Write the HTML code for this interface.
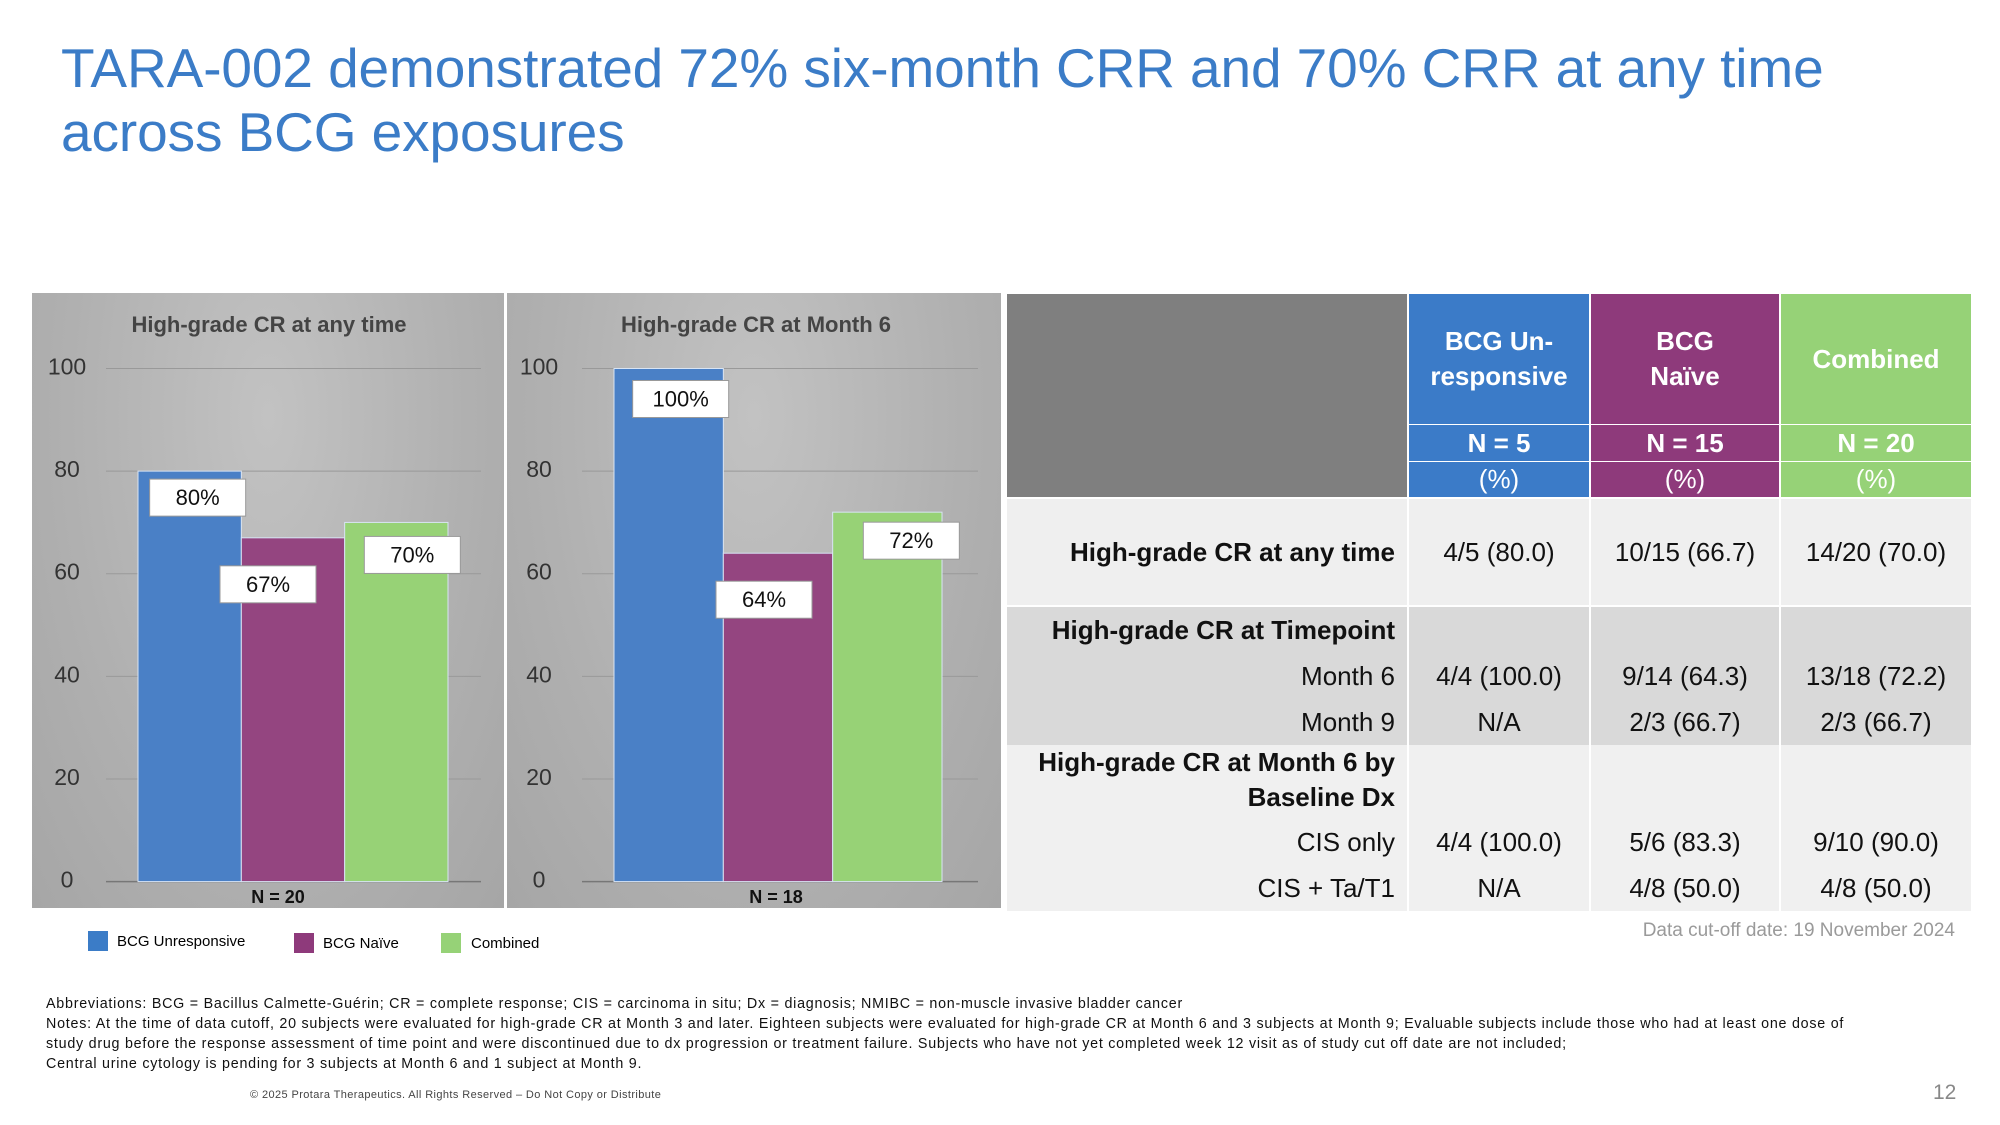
<!DOCTYPE html>
<html><head><meta charset="utf-8">
<style>
*{margin:0;padding:0;box-sizing:border-box}
body{width:2000px;height:1125px;background:#fff;font-family:"Liberation Sans",sans-serif;position:relative;overflow:hidden}
.abs{position:absolute}
#title{left:61px;top:36px;font-size:55px;color:#3b7cc7;line-height:64px;letter-spacing:-0.1px}
.panel{position:absolute;top:293px;height:615px;background:radial-gradient(ellipse at 50% 20%,#c2c2c2 0%,#b0b0b0 60%,#a6a6a6 100%)}
.cell{position:absolute;display:flex;align-items:center;justify-content:center;text-align:center;font-size:26px;color:#111}
.hdr{color:#fff;font-weight:bold;font-size:26px;line-height:35px}
.lbl{justify-content:flex-end;padding-right:12px;text-align:right}
.note{position:absolute;left:46px;font-size:14.3px;color:#111;letter-spacing:0.75px;white-space:nowrap}
</style></head><body>
<div id="title" class="abs">TARA-002 demonstrated 72% six-month CRR and 70% CRR at any time<br>across BCG exposures</div>

<div class="panel" style="left:32px;width:472px"></div>
<div class="panel" style="left:507px;width:494px"></div>
<svg id="charts" class="abs" style="left:0;top:0" width="1010" height="980"></svg>

<div class="abs" style="left:88px;top:931px;width:20px;height:20px;background:#3b7cc7"></div>
<div class="abs" style="left:117px;top:933px;font-size:15px">BCG Unresponsive</div>
<div class="abs" style="left:294px;top:933px;width:20px;height:20px;background:#8e3a7b"></div>
<div class="abs" style="left:323px;top:935px;font-size:15px">BCG Naïve</div>
<div class="abs" style="left:441px;top:933px;width:20px;height:20px;background:#96d277"></div>
<div class="abs" style="left:471px;top:935px;font-size:15px">Combined</div>

<div id="table">
<div class="cell" style="left:1007px;top:294px;width:400px;height:203px;background:#7f7f7f"></div>
<div class="cell hdr" style="left:1409px;top:294px;width:180px;height:130px;background:#3b7bc8">BCG Un-<br>responsive</div>
<div class="cell hdr" style="left:1591px;top:294px;width:188px;height:130px;background:#8e3a7b">BCG<br>Naïve</div>
<div class="cell hdr" style="left:1781px;top:294px;width:190px;height:130px;background:#96d277">Combined</div>
<div class="cell hdr" style="left:1409px;top:425px;width:180px;height:36px;background:#3b7bc8">N = 5</div>
<div class="cell hdr" style="left:1591px;top:425px;width:188px;height:36px;background:#8e3a7b">N = 15</div>
<div class="cell hdr" style="left:1781px;top:425px;width:190px;height:36px;background:#96d277">N = 20</div>
<div class="cell hdr" style="left:1409px;top:462px;width:180px;height:35px;background:#3b7bc8;font-weight:normal">(%)</div>
<div class="cell hdr" style="left:1591px;top:462px;width:188px;height:35px;background:#8e3a7b;font-weight:normal">(%)</div>
<div class="cell hdr" style="left:1781px;top:462px;width:190px;height:35px;background:#96d277;font-weight:normal">(%)</div>
</div>
<div class="abs" style="left:1500px;top:920px;width:455px;text-align:right;font-size:19px;color:#9a9a9a">Data cut-off date: 19 November 2024</div>

<div class="note" style="top:996px">Abbreviations: BCG = Bacillus Calmette-Guérin; CR = complete response; CIS = carcinoma in situ; Dx = diagnosis; NMIBC = non-muscle invasive bladder cancer</div>
<div class="note" style="top:1016px">Notes: At the time of data cutoff, 20 subjects were evaluated for high-grade CR at Month 3 and later. Eighteen subjects were evaluated for high-grade CR at Month 6 and 3 subjects at Month 9; Evaluable subjects include those who had at least one dose of</div>
<div class="note" style="top:1036px">study drug before the response assessment of time point and were discontinued due to dx progression or treatment failure. Subjects who have not yet completed week 12 visit as of study cut off date are not included;</div>
<div class="note" style="top:1056px">Central urine cytology is pending for 3 subjects at Month 6 and 1 subject at Month 9.</div>
<div class="abs" style="left:250px;top:1089px;font-size:11px;color:#444;letter-spacing:0.4px">© 2025 Protara Therapeutics. All Rights Reserved – Do Not Copy or Distribute</div>
<div class="abs" style="left:1933px;top:1081px;font-size:21px;color:#888">12</div>

<script>
const series = ["BCG Unresponsive","BCG Naïve","Combined"];
const anyTimeValues = [80,67,70];
const month6Values = [100,64,72];
const anyTimeLabels = ["80%","67%","70%"];
const month6Labels = ["100%","64%","72%"];
const yTicks = [0,20,40,60,80,100];
const colors = ["#4a80c6","#944580","#97d276"];
const NS="http://www.w3.org/2000/svg";
const svg=document.getElementById('charts');
function mk(tag,attrs){const e=document.createElementNS(NS,tag);for(const k in attrs)e.setAttribute(k,attrs[k]);svg.appendChild(e);return e;}
const y0=881.6,y100=368.5;
function yScale(v){return y0-(v/100)*(y0-y100);}
function drawChart(cfg,values,labels,key){
  yTicks.forEach(t=>{
    const l=mk('line',{x1:cfg.gx1,x2:cfg.gx2,y1:yScale(t),y2:yScale(t),stroke:t===0?'#777':'#999','stroke-width':t===0?1.5:1});
    
    
    const tx=mk('text',{x:cfg.tickX,y:yScale(t)+6,'text-anchor':'middle','font-size':23,fill:'#333'});
    tx.textContent=t;
    
    
  });
  const bw=(cfg.bx2-cfg.bx1)/values.length;
  values.forEach((v,i)=>{
    const x=cfg.bx1+i*bw;
    const r=mk('rect',{x:x,y:yScale(v),width:bw,height:y0-yScale(v),fill:colors[i],stroke:'#d8e4f4','stroke-width':1});
    
    
  });
  values.forEach((v,i)=>{
    const cx=cfg.bx1+(i+0.5)*bw+cfg.labelDx[i];
    const top=yScale(v)+cfg.labelDy[i];
    const b=mk('rect',{x:cx-48,y:top,width:96,height:37,fill:'#fff',stroke:'#999','stroke-width':1});
    
    
    const t=mk('text',{x:cx,y:top+26,'text-anchor':'middle','font-size':22,fill:'#111'});
    t.textContent=labels[i];
    
    
  });
  const tt=mk('text',{x:cfg.titleX,y:332,'text-anchor':'middle','font-size':22,'font-weight':'bold',fill:'#444'});
  tt.textContent=cfg.title;
  
  
  const n=mk('text',{x:cfg.nX,y:903,'text-anchor':'middle','font-size':18,'font-weight':'bold',fill:'#111'});
  n.textContent=cfg.n;
  
  
}
drawChart({gx1:106,gx2:481,bx1:138,bx2:448,tickX:67,titleX:269,nX:278,title:"High-grade CR at any time",n:"N = 20",labelDx:[8,-25,16],labelDy:[8,28,14]},anyTimeValues,anyTimeLabels,'any-time');
drawChart({gx1:582,gx2:978,bx1:614,bx2:942,tickX:539,titleX:756,nX:776,title:"High-grade CR at Month 6",n:"N = 18",labelDx:[12,-14,24],labelDy:[12,28,10]},month6Values,month6Labels,'month6');

const rowLabels=["High-grade CR at any time","High-grade CR at Timepoint","Month 6","Month 9","High-grade CR at Month 6 by<br>Baseline Dx","CIS only","CIS + Ta/T1"];
const rowBold=[true,true,false,false,true,false,false];
const colUnresponsive=["4/5 (80.0)","","4/4 (100.0)","N/A","","4/4 (100.0)","N/A"];
const colNaive=["10/15 (66.7)","","9/14 (64.3)","2/3 (66.7)","","5/6 (83.3)","4/8 (50.0)"];
const colCombined=["14/20 (70.0)","","13/18 (72.2)","2/3 (66.7)","","9/10 (90.0)","4/8 (50.0)"];
const rowTops=[499,607,653,699,745,819,865,911];
const rowBg=["#efefef","#d9d9d9","#d9d9d9","#d9d9d9","#f0f0f0","#f0f0f0","#f0f0f0"];
const cols=[[1007,400],[1409,180],[1591,188],[1781,190]];
const table=document.getElementById('table');
rowLabels.forEach((lab,r)=>{
  const vals=[lab,colUnresponsive[r],colNaive[r],colCombined[r]];
  vals.forEach((v,c)=>{
    const d=document.createElement('div');
    d.className='cell'+(c===0?' lbl':'');
    const top=rowTops[r], h=rowTops[r+1]-top-(r===0?2:0);
    d.style.cssText='left:'+cols[c][0]+'px;top:'+top+'px;width:'+cols[c][1]+'px;height:'+h+'px;background:'+rowBg[r]+';'+(c===0&&rowBold[r]?'font-weight:bold;line-height:35px;':'');
    if(r===4&&c===0){d.style.alignItems='flex-start';}
    d.innerHTML=v;
    
    
    table.appendChild(d);
  });
});
</script>
</body></html>
